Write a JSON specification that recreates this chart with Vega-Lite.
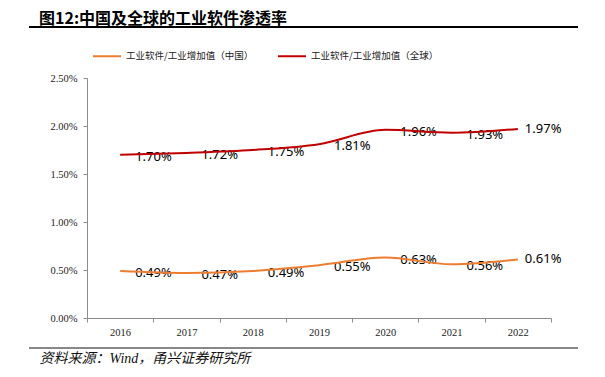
{
  "$schema": "https://vega.github.io/schema/vega-lite/v6.json",
  "width": 464,
  "height": 240,
  "autosize": {"type": "none"},
  "padding": {"left": 87, "top": 78, "right": 54, "bottom": 59},
  "background": "white",
  "title": {
    "text": "图12:中国及全球的工业软件渗透率",
    "anchor": "start",
    "frame": "group",
    "dx": -48,
    "offset": -1,
    "font": "Noto Sans CJK SC",
    "fontSize": 16,
    "fontWeight": "bold",
    "color": "#000"
  },
  "config": {"view": {"stroke": null}},
  "data": {
    "values": [
      {"year": 2016, "series": "工业软件/工业增加值（中国）", "value": 0.0049},
      {"year": 2017, "series": "工业软件/工业增加值（中国）", "value": 0.0047},
      {"year": 2018, "series": "工业软件/工业增加值（中国）", "value": 0.0049},
      {"year": 2019, "series": "工业软件/工业增加值（中国）", "value": 0.0055},
      {"year": 2020, "series": "工业软件/工业增加值（中国）", "value": 0.0063},
      {"year": 2021, "series": "工业软件/工业增加值（中国）", "value": 0.0056},
      {"year": 2022, "series": "工业软件/工业增加值（中国）", "value": 0.0061},
      {"year": 2016, "series": "工业软件/工业增加值（全球）", "value": 0.0170},
      {"year": 2017, "series": "工业软件/工业增加值（全球）", "value": 0.0172},
      {"year": 2018, "series": "工业软件/工业增加值（全球）", "value": 0.0175},
      {"year": 2019, "series": "工业软件/工业增加值（全球）", "value": 0.0181},
      {"year": 2020, "series": "工业软件/工业增加值（全球）", "value": 0.0196},
      {"year": 2021, "series": "工业软件/工业增加值（全球）", "value": 0.0193},
      {"year": 2022, "series": "工业软件/工业增加值（全球）", "value": 0.0197}
    ]
  },
  "layer": [
    {
      "transform": [{"filter": "datum.year < 2022"}],
      "mark": {"type": "text", "align": "left", "baseline": "middle", "dx": 15, "dy": 2, "font": "Noto Sans", "fontSize": 13, "color": "#000"},
      "encoding": {
        "x": {"field": "year", "type": "quantitative"},
        "y": {"field": "value", "type": "quantitative"},
        "text": {"field": "value", "type": "quantitative", "format": ".2%"}
      }
    },
    {
      "transform": [{"filter": "datum.year == 2022"}],
      "mark": {"type": "text", "align": "left", "baseline": "middle", "dx": 7, "dy": 0, "font": "Noto Sans", "fontSize": 13, "color": "#000"},
      "encoding": {
        "x": {"field": "year", "type": "quantitative"},
        "y": {"field": "value", "type": "quantitative"},
        "text": {"field": "value", "type": "quantitative", "format": ".2%"}
      }
    },
    {
      "mark": {"type": "line", "interpolate": "monotone", "strokeWidth": 2},
      "encoding": {
        "x": {
          "field": "year",
          "type": "quantitative",
          "scale": {"domain": [2015.5, 2022.5], "nice": false, "zero": false},
          "axis": {
            "values": [2015.5, 2016.5, 2017.5, 2018.5, 2019.5, 2020.5, 2021.5, 2022.5],
            "labelExpr": "datum.value < 2022 ? format(datum.value + 0.5, 'd') : ''",
            "labelOffset": 33.1,
            "labelFlush": false,
            "labelOverlap": false,
            "grid": false,
            "domainColor": "#8c8c8c",
            "tickColor": "#8c8c8c",
            "tickSize": 4,
            "labelPadding": 5,
            "labelFont": "Liberation Serif",
            "labelFontSize": 10.5,
            "labelColor": "#222",
            "title": "资料来源：Wind，甬兴证券研究所",
            "titleX": -48,
            "titleY": 40,
            "titleAlign": "left",
            "titleAnchor": "start",
            "titleBaseline": "middle",
            "titleFont": "'Liberation Serif', 'Noto Sans CJK SC'",
            "titleFontStyle": "italic",
            "titleFontWeight": "normal",
            "titleFontSize": 14,
            "titleColor": "#111"
          }
        },
        "y": {
          "field": "value",
          "type": "quantitative",
          "scale": {"domain": [0, 0.025], "nice": false},
          "axis": {
            "values": [0, 0.005, 0.01, 0.015, 0.02, 0.025],
            "format": ".2%",
            "title": null,
            "grid": false,
            "domainColor": "#8c8c8c",
            "tickColor": "#8c8c8c",
            "tickSize": 4,
            "labelPadding": 6,
            "labelFont": "Liberation Serif",
            "labelFontSize": 10.5,
            "labelColor": "#222"
          }
        },
        "color": {
          "field": "series",
          "type": "nominal",
          "scale": {"domain": ["工业软件/工业增加值（中国）", "工业软件/工业增加值（全球）"], "range": ["#ED7D31", "#C00000"]},
          "legend": {
            "orient": "none",
            "legendX": 5,
            "legendY": -37,
            "direction": "horizontal",
            "title": null,
            "symbolType": "stroke",
            "symbolSize": 784,
            "symbolStrokeWidth": 2,
            "labelFont": "Noto Sans CJK SC",
            "labelFontSize": 9.5,
            "labelColor": "#222",
            "labelOffset": 4,
            "columnPadding": 20
          }
        }
      }
    },
    {
      "mark": {"type": "rule", "color": "#000", "strokeWidth": 1.3, "clip": false},
      "encoding": {
        "x": {"datum": 2014.625, "type": "quantitative"},
        "x2": {"datum": 2022.907},
        "y": {"datum": 0.0303, "type": "quantitative"}
      }
    },
    {
      "mark": {"type": "rule", "color": "#888", "strokeWidth": 1.3, "clip": false},
      "encoding": {
        "x": {"datum": 2014.625, "type": "quantitative"},
        "x2": {"datum": 2022.907},
        "y": {"datum": -0.00314, "type": "quantitative"}
      }
    }
  ]
}
